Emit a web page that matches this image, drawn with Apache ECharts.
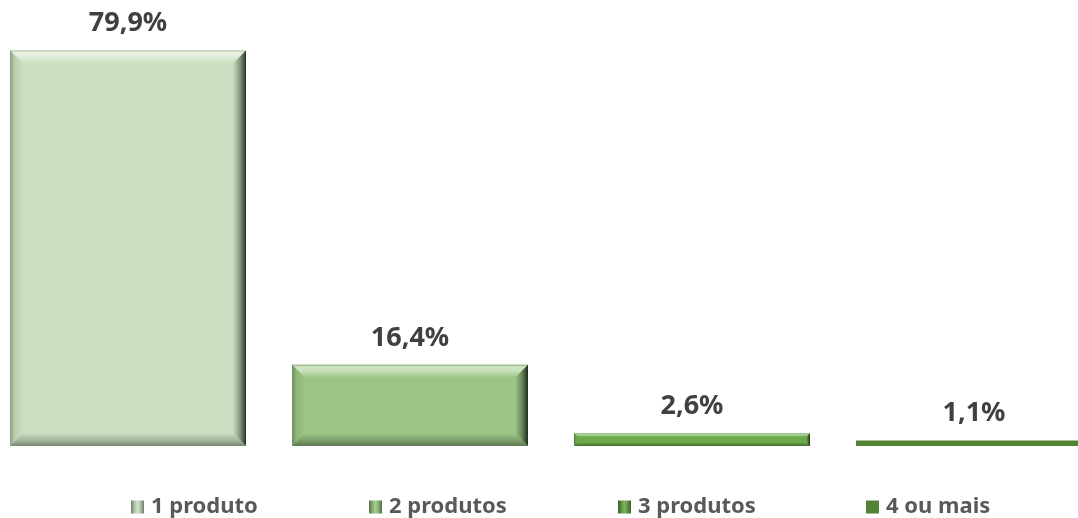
<!DOCTYPE html>
<html>
<head>
<meta charset="utf-8">
<script src="https://cdn.jsdelivr.net/npm/echarts@6/dist/echarts.min.js"></script>
<style>
  html, body { margin: 0; padding: 0; background: #ffffff; overflow: hidden; width: 1078px; height: 518px; }
  /* plot area runs a little past both page edges */
  #chart { position: absolute; left: -13px; top: 0; width: 1128px; height: 518px; }
</style>
</head>
<body>
<div id="chart"></div>
<script>
// Share of customers by number of products held
const categories = ['1 produto', '2 produtos', '3 produtos', '4 ou mais'];
const shares = [79.9, 16.4, 2.6, 1.1];
const valueLabels = ['79,9%', '16,4%', '2,6%', '1,1%'];

// Per-series look
const fillColors = ['#C9DFBF', '#9BC685', '#6CAA4C', '#548235'];
const beveled = [true, true, true, false];

const FONT = '"Noto Sans", "DejaVu Sans", sans-serif';

function hexToRgb(hex) {
  const n = parseInt(hex.slice(1), 16);
  return [(n >> 16) & 255, (n >> 8) & 255, n & 255];
}
function mix(hex, target, t) {
  const a = hexToRgb(hex);
  const b = target === 'white' ? [255, 255, 255] : [0, 0, 0];
  const c = a.map((v, i) => Math.round(v + (b[i] - v) * t));
  return 'rgb(' + c.join(',') + ')';
}
function grad(x2, y2, stops) {
  return {
    type: 'linear', x: 0, y: 0, x2: x2, y2: y2,
    colorStops: stops.map(s => ({ offset: s[0], color: s[1] }))
  };
}

function makeRenderItem(i) {
  return function (params, api) {
    const idx = api.value(0);
    const val = api.value(1);
    const topPt = api.coord([idx, val]);
    const basePt = api.coord([idx, 0]);
    const band = api.size([1, 0])[0];
    const w = band * 236 / 282;
    const x0 = topPt[0] - w / 2, x1 = x0 + w;
    const y0 = topPt[1], y1 = basePt[1];
    const h = y1 - y0;
    const base = fillColors[i];
    const children = [{
      type: 'rect',
      shape: { x: x0, y: y0, width: w, height: h },
      style: { fill: base }
    }];
    if (beveled[i]) {
      const b = Math.min(13, h * 0.3);
      // top face
      children.push({
        type: 'polygon',
        shape: { points: [[x0, y0], [x1, y0], [x1 - b, y0 + b], [x0 + b, y0 + b]] },
        style: { fill: grad(0, 1, [[0, mix(base, 'black', 0.12)], [0.15, mix(base, 'white', 0.55)], [0.45, mix(base, 'white', 0.45)], [1, base]]) }
      });
      // left face
      children.push({
        type: 'polygon',
        shape: { points: [[x0, y0], [x0 + b, y0 + b], [x0 + b, y1 - b], [x0, y1]] },
        style: { fill: grad(1, 0, [[0, mix(base, 'black', 0.3)], [0.35, mix(base, 'black', 0.08)], [1, base]]) }
      });
      // bottom face
      children.push({
        type: 'polygon',
        shape: { points: [[x0, y1], [x0 + b, y1 - b], [x1 - b, y1 - b], [x1, y1]] },
        style: { fill: grad(0, 1, [[0, base], [0.6, mix(base, 'black', 0.2)], [1, mix(base, 'black', 0.4)]]) }
      });
      // right face
      children.push({
        type: 'polygon',
        shape: { points: [[x1, y0], [x1, y1], [x1 - b, y1 - b], [x1 - b, y0 + b]] },
        style: { fill: grad(1, 0, [[0, base], [0.5, mix(base, 'black', 0.3)], [1, mix(base, 'black', 0.78)]]) }
      });
    }
    // value label above the bar
    children.push({
      type: 'text',
      style: {
        text: valueLabels[i],
        x: topPt[0], y: y0 - 27,
        align: 'center', verticalAlign: 'middle',
        fill: '#404040',
        font: 'bold 27px ' + FONT
      }
    });
    return { type: 'group', children: children };
  };
}

// small beveled swatch for the legend
function legendSwatch(i) {
  const base = fillColors[i];
  if (!beveled[i]) return base;
  return grad(1, 0, [[0, mix(base, 'black', 0.45)], [0.3, mix(base, 'black', 0.1)], [0.5, mix(base, 'white', 0.1)], [0.7, mix(base, 'black', 0.1)], [1, mix(base, 'black', 0.45)]]);
}

const legendLefts = [139, 377, 626, 874];

const option = {
  animation: false,
  backgroundColor: '#ffffff',
  grid: { left: 0, right: 0, top: 50, bottom: 72, containLabel: false },
  xAxis: {
    type: 'category',
    data: categories,
    axisLine: { show: false },
    axisTick: { show: false },
    axisLabel: { show: false },
    splitLine: { show: false }
  },
  yAxis: { type: 'value', min: 0, max: 80, show: false },
  legend: categories.map((name, i) => ({
    data: [{ name: name, itemStyle: { color: legendSwatch(i) } }],
    left: legendLefts[i],
    top: 491,
    icon: 'rect',
    itemWidth: 13,
    itemHeight: 13,
    itemGap: 0,
    textStyle: { color: '#595959', fontSize: 22, fontWeight: 'bold', fontFamily: FONT, padding: [0, 0, 0, 2] }
  })),
  series: categories.map((name, i) => ({
    type: 'custom',
    name: name,
    data: [[i, shares[i]]],
    encode: { x: 0, y: 1 },
    itemStyle: { color: fillColors[i] },
    renderItem: makeRenderItem(i)
  }))
};

const chart = echarts.init(document.getElementById('chart'), null, { renderer: 'canvas' });
chart.setOption(option);
</script>
</body>
</html>
